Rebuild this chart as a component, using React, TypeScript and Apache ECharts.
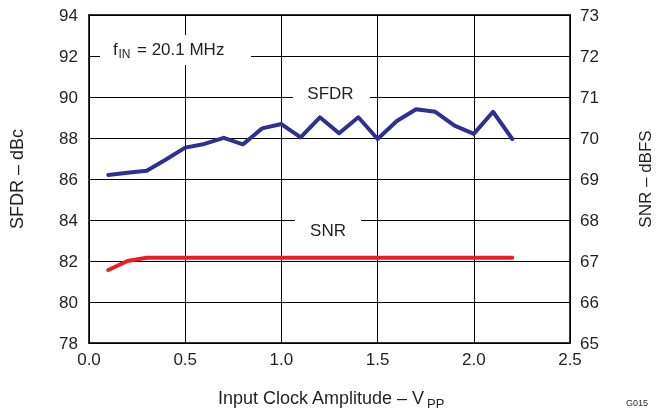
import React, { useEffect, useRef } from "react";
import * as echarts from "echarts";

const clockAmplitude = [0.1, 0.2, 0.3, 0.4, 0.5, 0.6, 0.7, 0.8, 0.9, 1.0, 1.1, 1.2, 1.3, 1.4, 1.5, 1.6, 1.7, 1.8, 1.9, 2.0, 2.1, 2.2];
const sfdrValues = [86.2, 86.3, 86.4, 86.95, 87.53, 87.71, 88.01, 87.69, 88.47, 88.68, 88.03, 89.01, 88.23, 89.01, 87.95, 88.83, 89.4, 89.28, 88.6, 88.2, 89.28, 87.95];
const snrValues = [66.78, 67.0, 67.08, 67.08, 67.08, 67.08, 67.08, 67.08, 67.08, 67.08, 67.08, 67.08, 67.08, 67.08, 67.08, 67.08, 67.08, 67.08, 67.08, 67.08, 67.08, 67.08];

const FONT = "'Liberation Sans', Arial, Helvetica, sans-serif";
const TXT = "#231f20";

export default function App() {
  const ref = useRef<HTMLDivElement>(null);
  useEffect(() => {
    if (!ref.current) return;
    const chart = echarts.init(ref.current, undefined, { renderer: "svg" });
    const labelStyle = { color: TXT, fontSize: 17, fontFamily: FONT };
    chart.setOption({
      animation: false,
      grid: {
        left: 89,
        right: 86,
        top: 15,
        bottom: 66,
        show: true,
        borderColor: "#333",
        borderWidth: 2,
        backgroundColor: "transparent",
      },
      xAxis: {
        type: "value",
        min: 0,
        max: 2.5,
        interval: 0.5,
        axisLine: { show: false },
        axisTick: { show: false },
        axisLabel: { ...labelStyle, margin: 8, formatter: (v: number) => v.toFixed(1) },
        splitLine: { show: true, lineStyle: { color: "#000", width: 1 } },
      },
      yAxis: [
        {
          type: "value",
          min: 78,
          max: 94,
          interval: 2,
          axisLine: { show: false },
          axisTick: { show: false },
          axisLabel: { ...labelStyle, margin: 11 },
          splitLine: { show: true, lineStyle: { color: "#000", width: 1 } },
        },
        {
          type: "value",
          position: "right",
          min: 65,
          max: 73,
          interval: 1,
          axisLine: { show: false },
          axisTick: { show: false },
          axisLabel: { ...labelStyle, margin: 10 },
          splitLine: { show: false },
        },
      ],
      series: [
        {
          name: "SFDR",
          type: "line",
          yAxisIndex: 0,
          data: clockAmplitude.map((x, i) => [x, sfdrValues[i]]),
          showSymbol: false,
          lineStyle: { color: "#2e3192", width: 4, join: "round", cap: "round" },
          z: 3,
        },
        {
          name: "SNR",
          type: "line",
          yAxisIndex: 1,
          data: clockAmplitude.map((x, i) => [x, snrValues[i]]),
          showSymbol: false,
          lineStyle: { color: "#ed1c24", width: 4, join: "round", cap: "round" },
          z: 3,
        },
      ],
      graphic: [
        { type: "rect", z: 1, shape: { x: 100, y: 35, width: 151, height: 30 }, style: { fill: "#fff" } },
        { type: "rect", z: 1, shape: { x: 293, y: 80, width: 77, height: 26 }, style: { fill: "#fff" } },
        { type: "rect", z: 1, shape: { x: 295, y: 217, width: 66, height: 26 }, style: { fill: "#fff" } },
        { type: "text", z: 5, x: 113, y: 49, style: { text: "f", fill: TXT, fontSize: 17, fontFamily: FONT, verticalAlign: "middle" } },
        { type: "text", z: 5, x: 118.5, y: 54, style: { text: "IN", fill: TXT, fontSize: 12, fontFamily: FONT, verticalAlign: "middle" } },
        { type: "text", z: 5, x: 137, y: 49, style: { text: "= 20.1 MHz", fill: TXT, fontSize: 17, fontFamily: FONT, verticalAlign: "middle" } },
        { type: "text", z: 5, x: 330.5, y: 93, style: { text: "SFDR", fill: TXT, fontSize: 17, fontFamily: FONT, align: "center", verticalAlign: "middle" } },
        { type: "text", z: 5, x: 328, y: 230, style: { text: "SNR", fill: TXT, fontSize: 17, fontFamily: FONT, align: "center", verticalAlign: "middle" } },
        { type: "text", z: 5, x: 218, y: 398, style: { text: "Input Clock Amplitude – V", fill: TXT, fontSize: 18, fontFamily: FONT, verticalAlign: "middle" } },
        { type: "text", z: 5, x: 427, y: 403, style: { text: "PP", fill: TXT, fontSize: 13, fontFamily: FONT, verticalAlign: "middle" } },
        { type: "text", z: 5, x: 17, y: 179, rotation: Math.PI / 2, style: { text: "SFDR – dBc", fill: TXT, fontSize: 18, fontFamily: FONT, align: "center", verticalAlign: "middle" } },
        { type: "text", z: 5, x: 645, y: 179, rotation: Math.PI / 2, style: { text: "SNR – dBFS", fill: TXT, fontSize: 17, fontFamily: FONT, align: "center", verticalAlign: "middle" } },
        { type: "text", z: 5, x: 626, y: 398, style: { text: "G015", fill: TXT, fontSize: 9, fontFamily: FONT } },
      ],
    });
    return () => chart.dispose();
  }, []);
  return <div ref={ref} style={{ position: "fixed", left: 0, top: 0, width: 656, height: 409 }} />;
}
